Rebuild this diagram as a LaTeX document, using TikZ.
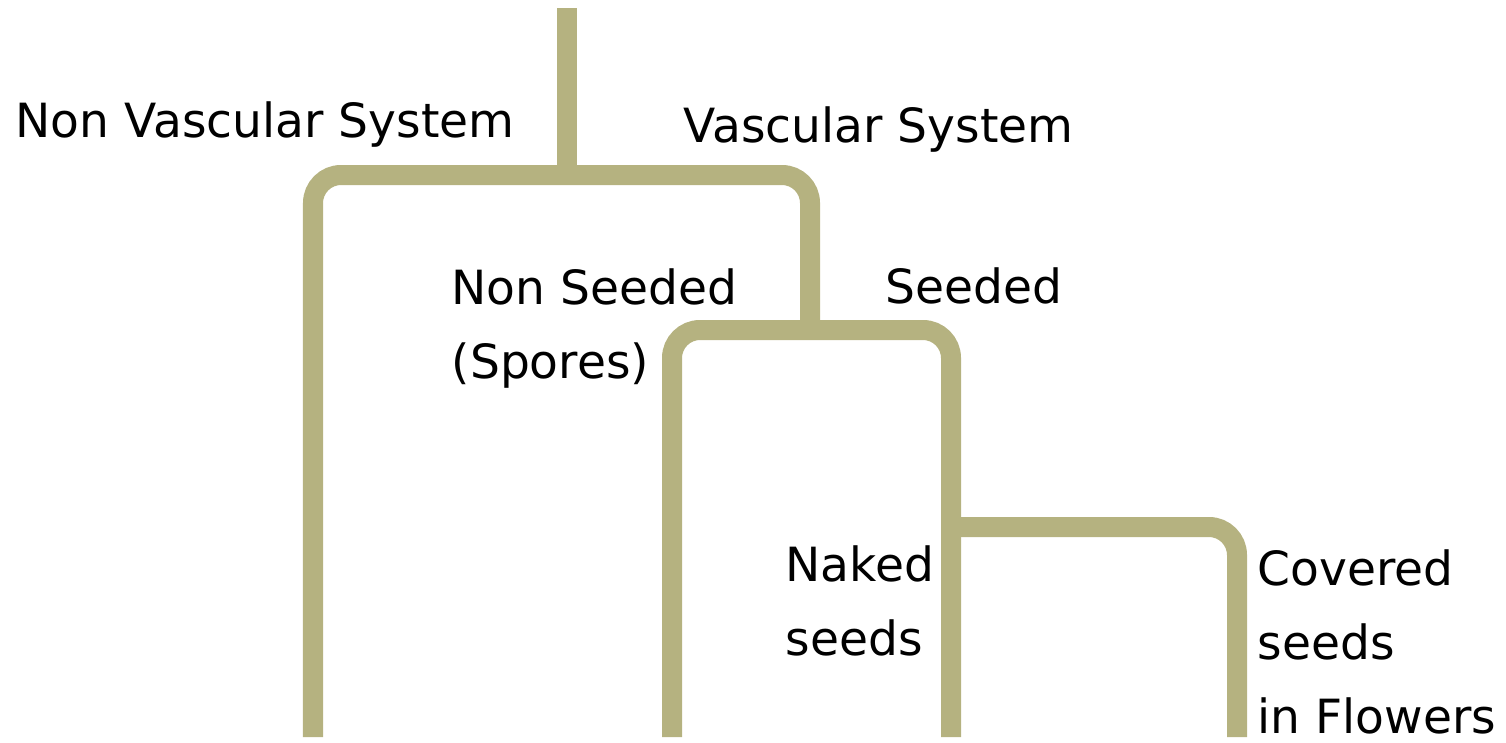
\documentclass[tikz,border=0pt]{standalone}
\usepackage{fontspec}
\setmainfont{DejaVu Sans}
\definecolor{stem}{RGB}{181,178,128}
\begin{document}
\begin{tikzpicture}[
		x=0.01cm, y=-0.01cm,
		branch/.style={
			draw=stem,
			line width=0.2cm,
			rounded corners=0.28cm
		},
		label/.style={
			inner sep=0pt,
			anchor=base west,   % last line of the label
			align=left,
			font=\fontsize{13.4}{21}\selectfont
		}
		]
		\useasboundingbox (0,0) rectangle (1506,742);
		
		% Branch points
		\coordinate (top) at (567,8);
		\coordinate (plants) at (567,175);
		\coordinate (vascular) at (810,330);
		\coordinate (seeded) at (951,527);
		
		% Branch ends
		\coordinate (nvend) at (313,737);
		\coordinate (nsend) at (672,737);
		\coordinate (nkend) at (951,737);
		\coordinate (cvend) at (1237,737);
		
		% Labels
		\node[label] (nvasc) at (15,137) {Non Vascular System};
		\node[label] (vasc) at (683,142) {Vascular System};
		\node[label] (nseed) at (451,378) {Non Seeded\\(Spores)};
		\node[label] (seed) at (885,303) {Seeded};
		\node[label] (naked) at (785,655) {Naked\\seeds};
		\node[label] (cover) at (1257,733) {Covered\\seeds\\in Flowers};
		
		% Tree
		\draw[branch] (top) -- (plants);
		\draw[branch] (nvend) |- (plants) -| (vascular);
		\draw[branch] (nsend) |- (vascular) -| (seeded) -- (nkend);
		\draw[branch] (seeded) -| (cvend);
		
	\end{tikzpicture}
\end{document}
